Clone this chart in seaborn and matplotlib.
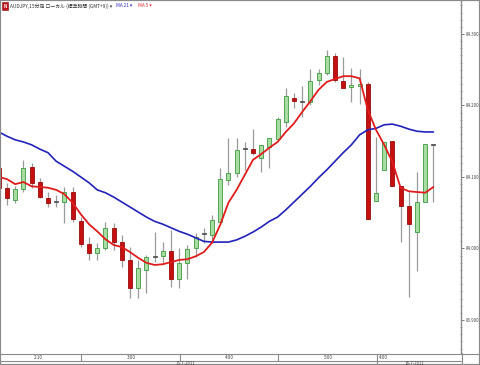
import numpy as np
import pandas as pd
import matplotlib
matplotlib.use("Agg")
import matplotlib.pyplot as plt
import seaborn as sns
from matplotlib.lines import Line2D
from matplotlib.patches import Rectangle
from matplotlib.ticker import MultipleLocator

# ---------------- data ----------------
opens = [84.113, 84.085, 84.068, 84.083, 84.114, 84.093, 84.071, 84.065, 84.065, 84.079,
         84.038, 84.006, 83.994, 84.001, 84.029, 84.009, 83.984, 83.945, 83.970, 83.988,
         83.989, 83.996, 83.957, 83.980, 84.001, 84.020, 84.019, 84.037, 84.096, 84.106,
         84.139, 84.139, 84.127, 84.142, 84.153, 84.177, 84.210, 84.205, 84.205, 84.236,
         84.245, 84.269, 84.234, 84.226, 84.227, 84.230, 84.066, 84.110, 84.150, 84.087,
         84.059, 84.023, 84.065, 84.145]
highs = [84.117, 84.092, 84.087, 84.124, 84.120, 84.099, 84.079, 84.075, 84.086, 84.086,
         84.044, 84.016, 84.008, 84.037, 84.036, 84.019, 84.002, 83.984, 83.991, 84.023,
         84.009, 84.026, 84.001, 84.005, 84.022, 84.029, 84.047, 84.113, 84.155, 84.155,
         84.149, 84.167, 84.145, 84.155, 84.184, 84.224, 84.217, 84.227, 84.251, 84.251,
         84.278, 84.273, 84.268, 84.252, 84.251, 84.233, 84.156, 84.149, 84.150, 84.087,
         84.079, 84.107, 84.146, 84.145]
lows = [84.082, 84.061, 84.064, 84.079, 84.085, 84.071, 84.058, 84.058, 84.036, 84.037,
        84.002, 83.984, 83.984, 83.998, 83.998, 83.974, 83.931, 83.931, 83.938, 83.981,
        83.980, 83.946, 83.945, 83.957, 83.988, 84.008, 84.008, 84.036, 84.089, 84.100,
        84.110, 84.131, 84.107, 84.113, 84.152, 84.170, 84.196, 84.184, 84.201, 84.229,
        84.243, 84.233, 84.224, 84.205, 84.202, 84.041, 84.066, 84.110, 84.087, 84.009,
        83.932, 83.968, 84.065, 84.065]
closes = [84.085, 84.071, 84.083, 84.113, 84.092, 84.072, 84.064, 84.065, 84.079, 84.041,
          84.006, 83.994, 84.001, 84.029, 84.009, 83.984, 83.945, 83.973, 83.988, 83.988,
          83.996, 83.957, 83.980, 83.999, 84.016, 84.020, 84.040, 84.097, 84.106, 84.138,
          84.139, 84.134, 84.145, 84.155, 84.181, 84.213, 84.206, 84.205, 84.234, 84.245,
          84.269, 84.236, 84.224, 84.229, 84.230, 84.041, 84.078, 84.149, 84.087, 84.059,
          84.034, 84.065, 84.146, 84.145]
ma21 = [84.163, 84.157, 84.152, 84.149, 84.145, 84.139, 84.134, 84.122, 84.115, 84.108,
        84.100, 84.092, 84.082, 84.078, 84.072, 84.065, 84.058, 84.051, 84.044, 84.038,
        84.034, 84.029, 84.024, 84.020, 84.015, 84.010, 84.009, 84.009, 84.009, 84.012,
        84.017, 84.023, 84.030, 84.038, 84.044, 84.054, 84.065, 84.076, 84.087, 84.099,
        84.110, 84.122, 84.134, 84.145, 84.159, 84.166, 84.168, 84.173, 84.174, 84.171,
        84.167, 84.164, 84.163, 84.163]
ma5 = [84.100, 84.097, 84.090, 84.093, 84.087, 84.086, 84.085, 84.082, 84.076, 84.064,
       84.048, 84.034, 84.024, 84.013, 84.005, 84.002, 83.995, 83.987, 83.980, 83.977,
       83.978, 83.981, 83.984, 83.985, 83.989, 83.995, 84.008, 84.033, 84.064, 84.082,
       84.103, 84.124, 84.132, 84.141, 84.149, 84.163, 84.175, 84.191, 84.206, 84.222,
       84.233, 84.237, 84.241, 84.241, 84.238, 84.194, 84.166, 84.145, 84.121, 84.085,
       84.080, 84.079, 84.078, 84.086]
ytick_values = [83.9, 84.0, 84.1, 84.2, 84.3]
ytick_labels = ["83.900", "84.000", "84.100", "84.200", "84.300"]
time_labels = ["2:10", "3:00", "4:00", "5:00", "4:00"]
date_labels = ["16-7-2011", "18-7-2011"]
header_text = "AUDJPY,15分足 ローカル (標準時間 (GMT+9)) ▾"
ma21_label = "MA 21 ▾"
ma5_label = "MA 5 ▾"

# ---------------- styling ----------------
sns.set_theme(style="white")
plt.rcParams['font.family'] = ['Noto Sans CJK JP', 'DejaVu Sans']

W, H = 480, 365
fig = plt.figure(figsize=(W / 100, H / 100), dpi=100)
fig.patch.set_facecolor("white")

def fx(x):
    return x / W

def fy(y):
    return 1 - y / H

ax = fig.add_axes([0, fy(353), fx(461), 353 / H])
ax.set_facecolor("white")

df = pd.DataFrame({"i": np.arange(len(opens)), "open": opens, "high": highs,
                   "low": lows, "close": closes, "ma21": ma21, "ma5": ma5})

# wicks
ax.vlines(df["i"], df["low"], df["high"], color="#9a9a9a", lw=0.9, zorder=2)

# bodies
for _, r in df.iterrows():
    o, c = r["open"], r["close"]
    lo, hi = min(o, c), max(o, c)
    h = max(hi - lo, 0.0012)
    if c > o + 1e-9:
        fc, ec = "#a9dca3", "#3d9a3d"
    elif c < o - 1e-9:
        fc, ec = "#c41010", "#9a0a0a"
    else:
        fc, ec = "#555555", "#555555"
    ax.bar(r["i"], h, bottom=lo, width=0.5, color=fc, edgecolor=ec, lw=0.6, zorder=3)

sns.lineplot(data=df, x="i", y="ma21", ax=ax, color="#2222b8", lw=1.2, zorder=4)
sns.lineplot(data=df, x="i", y="ma5", ax=ax, color="#e01c1c", lw=1.3, zorder=5)

ax.set_xlim(1.2 / 8.2, 462.2 / 8.2)
ax.set_ylim(84.3 - (353 - 34) / 715, 84.3 + 34 / 715)
ax.set_xlabel("")
ax.set_ylabel("")
ax.set_xticks([])
for s in ["left", "top", "bottom"]:
    ax.spines[s].set_visible(False)
ax.spines["right"].set_color("#8a8a8a")
ax.spines["right"].set_linewidth(1.0)
ax.yaxis.tick_right()
ax.set_yticks(ytick_values)
ax.set_yticklabels(ytick_labels)
ax.yaxis.set_minor_locator(MultipleLocator(0.01))
ax.tick_params(axis="y", which="major", labelsize=3.1, labelcolor="#444444",
               colors="#666666", length=2.5, width=0.6, pad=0.8, direction="out")
ax.tick_params(axis="y", which="minor", length=1.5, width=0.5, colors="#888888",
               direction="inout", right=True, left=False)
ax.yaxis.set_tick_params(which="both", right=True, left=False)

# ---------------- frame & time axis ----------------
gray = "#8a8a8a"
def hline(y, x0, x1, c=gray, lw=0.8):
    fig.add_artist(Line2D([fx(x0), fx(x1)], [fy(y), fy(y)], color=c, lw=lw))

def vline(x, y0, y1, c=gray, lw=0.8):
    fig.add_artist(Line2D([fx(x), fx(x)], [fy(y0), fy(y1)], color=c, lw=lw))

fig.add_artist(Rectangle((0, 0), 1, 1, transform=fig.transFigure, fill=False,
                         edgecolor=gray, lw=1.6))
hline(353.5, 0, 480)
hline(361, 0, 461)
vline(461.5, 353, 365)
for xs in [81, 180, 278, 377]:
    vline(xs, 353.5, 361)
vline(377, 361, 365)

time_pos = [(38, "center"), (131, "center"), (229, "center"), (328, "center"), (379, "left")]
for lab, (xp, ha) in zip(time_labels, time_pos):
    fig.text(fx(xp), fy(357.3), lab, fontsize=3.3, color="#444444", ha=ha, va="center")
for lab, xp in zip(date_labels, [185, 415]):
    fig.text(fx(xp), fy(363.2), lab, fontsize=3.1, color="#444444", ha="center", va="center")

# ---------------- header ----------------
fig.add_artist(Rectangle((fx(2), fy(10)), fx(6), 8 / H, transform=fig.transFigure,
                         facecolor="#c0141c", edgecolor="#8a0a0a", lw=0.4))
fig.text(fx(5), fy(6), "N", fontsize=3.2, color="white", ha="center", va="center",
         fontweight="bold")
htxt = fig.text(fx(10), fy(5.8), header_text, fontsize=3.6, color="#333333",
                ha="left", va="center")
renderer = fig.canvas.get_renderer()
wpx = htxt.get_window_extent(renderer).width
if wpx > 102:
    htxt.set_fontsize(3.6 * 102 / wpx)
t21 = fig.text(fx(116), fy(5.8), ma21_label, fontsize=3.4, color="#3030c0", ha="left", va="center")
w21 = t21.get_window_extent(renderer).width
fig.text(fx(116 + w21 + 6), fy(5.8), ma5_label, fontsize=3.4, color="#e03030",
         ha="left", va="center")

fig.savefig("out.png", dpi=100, facecolor="white")
